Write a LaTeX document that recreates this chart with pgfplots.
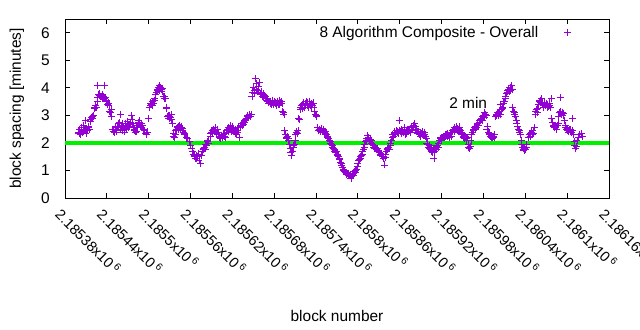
\documentclass[border=0pt]{standalone}
\usepackage{pgfplots}
\pgfplotsset{compat=1.18}
\usepackage{fontspec}
\setmainfont{Liberation Sans}
\definecolor{gpviolet}{RGB}{148,0,211}
\definecolor{gpgreen}{RGB}{0,240,0}
\newcommand{\tl}[1]{#1x10\,\textsuperscript{6}}
\pgfplotsset{mylegimg/.style={legend image code/.code={\path[draw=none] (0,0) -- (0.95cm,0); \draw[##1] plot[only marks] coordinates {(0.95cm,0cm)};}}}
\begin{document}
\begin{tikzpicture}
\path[use as bounding box] (-65bp,-132bp) rectangle (575bp,198bp);
\begin{axis}[
  at={(0,0)}, anchor=south west,
  scale only axis, width=544bp, height=179bp,
  xmin=380, xmax=1160, ymin=0, ymax=6.5,
  font=\fontsize{15.5}{18}\selectfont,
  /pgf/number format/assume math mode=true,
  axis line style={line width=0.9bp},
  tick style={line width=0.9bp, black},
  tick align=inside, major tick length=5bp,
  xtick={380,440,...,1160},
  xticklabels={\tl{2.18538},\tl{2.18544},\tl{2.1855},\tl{2.18556},\tl{2.18562},\tl{2.18568},\tl{2.18574},\tl{2.1858},\tl{2.18586},\tl{2.18592},\tl{2.18598},\tl{2.18604},\tl{2.1861},\tl{2.18616}},
  xticklabel style={yshift=-9bp, xshift=-2bp, rotate=-45, anchor=north west, inner sep=0pt, font=\fontsize{14.5}{17}\selectfont},
  ytick={0,1,...,6},
  yticklabel style={anchor=east, inner sep=0pt, xshift=-15bp},
  ylabel={block spacing [minutes]},
  xlabel={block number},
  ylabel style={at={(rel axis cs:0,0.5)}, anchor=center, yshift=48bp},
  xlabel style={at={(rel axis cs:0.5,0)}, anchor=center, yshift=-118bp},
  legend plot pos=right,
  legend style={draw=none, fill=none, at={(rel axis cs:1,1)}, anchor=north east, xshift=-35bp, yshift=-3bp, font=\fontsize{15.5}{18}\selectfont},
  clip=true,
]
% x = block number - 2185000
\addplot[only marks, mark=+, mark size=3.5bp, gpviolet, mark options={line width=0.8bp}, mylegimg] table {
x y
399 2.40
400 2.35
401 2.48
402 2.30
403 2.55
404 2.45
405 2.38
406 2.62
407 2.42
408 2.50
409 2.80
410 2.35
411 2.52
412 2.45
413 2.58
414 2.60
415 2.50
416 2.78
417 2.85
418 2.92
419 2.88
420 2.95
421 3.00
422 3.25
423 3.30
424 3.35
425 3.28
426 3.50
427 3.65
428 3.75
429 3.72
430 3.78
427 4.10
431 3.70
432 3.68
433 3.75
434 3.62
435 3.70
436 3.60
437 4.08
438 3.65
439 3.55
440 3.50
441 3.40
442 3.45
443 3.35
444 3.15
445 3.10
446 3.20
447 2.95
448 2.50
449 2.42
450 2.48
451 2.38
452 2.55
453 2.45
454 2.40
455 2.60
456 2.70
457 2.55
458 2.75
459 3.05
460 2.50
461 2.65
462 2.45
463 2.70
464 2.55
465 2.40
466 2.60
467 2.72
468 2.50
469 2.62
470 2.78
471 2.55
472 2.68
473 2.60
474 2.75
475 3.00
476 2.85
477 2.70
478 2.55
479 2.45
480 2.50
481 2.40
482 2.42
483 2.55
484 2.65
485 2.75
486 2.80
487 2.70
488 2.60
489 2.72
490 2.55
491 2.65
492 2.50
494 2.45
496 2.35
497 2.30
498 2.40
500 2.88
501 3.30
502 3.38
503 3.45
504 3.40
505 3.50
506 3.35
507 3.45
508 3.55
509 3.60
510 3.75
511 3.85
512 3.90
513 3.95
514 4.00
515 3.92
516 4.08
517 4.02
518 3.95
519 3.88
520 3.98
521 3.70
522 3.62
523 3.68
524 3.60
525 3.30
526 3.25
527 2.95
528 3.00
529 2.90
530 2.98
531 2.92
532 3.02
533 2.85
534 2.70
535 2.25
536 2.35
537 2.20
538 2.45
539 2.30
540 2.50
541 2.55
542 2.60
543 2.50
544 2.62
545 2.48
546 2.55
547 2.58
548 2.45
549 2.52
550 2.40
551 2.35
552 2.30
554 2.20
556 2.15
558 2.05
560 1.90
562 1.80
563 1.70
564 1.60
565 1.55
566 1.50
567 1.45
568 1.55
569 1.42
570 1.50
571 1.60
572 1.35
574 1.26
576 1.55
577 1.70
578 1.75
579 1.80
580 1.85
581 1.78
582 1.95
583 1.90
584 2.05
585 2.10
586 2.00
588 2.25
589 2.35
590 2.40
591 2.45
592 2.38
593 2.50
594 2.42
595 2.55
596 2.45
597 2.35
598 2.40
599 2.48
600 2.30
601 2.25
602 2.20
603 2.15
604 2.28
605 2.22
606 2.18
607 2.30
608 2.25
609 2.35
610 2.20
611 2.40
612 2.45
613 2.50
614 2.40
615 2.55
616 2.48
617 2.62
618 2.42
619 2.50
620 2.58
621 2.45
622 2.52
623 2.40
624 2.35
625 2.48
626 2.30
627 2.40
628 2.45
629 2.55
630 2.20
631 2.60
632 2.65
633 2.70
634 2.62
635 2.72
636 2.68
637 2.75
638 2.80
639 2.85
640 2.90
641 2.95
642 3.00
643 2.92
644 2.98
645 3.05
646 2.95
647 3.02
648 3.70
649 3.85
650 4.00
651 3.90
652 3.80
653 4.33
654 4.15
655 3.95
656 3.85
657 4.05
658 3.90
659 4.20
660 3.80
661 3.75
662 3.85
663 3.70
664 3.78
665 3.65
666 3.72
667 3.60
668 3.68
669 3.55
670 3.62
671 3.50
672 3.45
673 3.52
674 3.42
675 3.48
676 3.40
677 3.55
678 3.45
679 3.38
680 3.50
681 3.42
682 3.48
683 3.35
684 3.52
685 3.45
686 3.40
687 3.55
688 3.38
689 3.45
690 3.50
691 3.42
692 3.15
693 3.10
694 3.05
695 2.45
696 2.30
697 2.20
698 2.15
699 2.22
700 2.10
701 2.18
702 1.95
703 1.80
704 1.65
705 1.55
706 1.70
707 1.85
708 1.90
709 1.95
710 2.10
711 2.30
712 2.40
713 2.35
714 2.45
715 2.90
716 2.85
717 3.20
718 3.30
719 3.35
720 3.25
721 3.40
722 3.45
723 3.30
724 3.42
725 3.38
726 3.50
727 3.35
728 3.45
729 3.30
730 3.40
731 3.52
732 3.35
733 3.42
734 3.28
735 3.38
736 3.45
737 3.30
738 3.15
739 3.05
740 2.95
741 3.00
742 2.55
744 2.45
745 2.50
746 2.42
747 2.48
748 2.52
749 2.40
750 2.45
751 2.50
752 2.38
753 2.42
754 2.35
755 2.30
756 2.25
757 2.20
758 2.15
759 2.10
760 2.05
761 2.00
762 1.95
763 1.90
764 1.85
765 1.80
766 1.75
767 1.70
768 1.65
769 1.68
770 1.60
771 1.55
772 1.50
773 1.45
774 1.40
775 1.30
776 1.25
777 1.20
778 1.10
779 1.05
780 1.00
781 0.95
782 0.92
783 0.88
784 0.85
785 0.90
786 0.82
787 0.88
788 0.80
789 0.85
790 0.72
791 0.78
792 0.85
793 0.90
794 0.82
795 0.95
796 0.92
797 1.00
798 1.05
799 1.15
800 1.25
801 1.35
802 1.40
803 1.45
804 1.50
805 1.55
806 1.60
807 1.70
808 1.78
809 1.85
810 1.95
811 2.05
812 2.10
813 2.15
814 2.27
815 2.20
816 2.10
817 2.05
818 2.12
819 2.08
820 2.00
821 1.95
822 1.90
823 1.85
824 1.80
825 1.82
826 1.78
827 1.75
828 1.80
829 1.72
830 1.70
831 1.65
832 1.60
833 1.55
834 1.58
835 1.50
836 1.45
837 1.52
838 1.20
839 1.48
840 1.60
841 1.70
842 1.75
843 1.80
844 1.85
845 1.78
846 1.90
847 2.00
848 2.10
849 2.20
850 2.30
851 2.25
852 2.35
853 2.40
854 2.30
855 2.45
856 2.38
857 2.42
858 2.35
859 2.80
860 2.45
861 2.40
862 2.48
863 2.35
864 2.42
865 2.38
866 2.45
867 2.55
868 2.30
869 2.40
870 2.35
871 2.50
872 2.42
873 2.40
874 2.50
875 2.38
876 2.55
877 2.60
878 2.50
879 2.65
880 2.55
881 2.70
882 2.60
883 2.45
884 2.50
885 2.40
886 2.35
887 2.40
888 2.30
889 2.38
890 2.25
891 2.35
892 2.30
893 2.42
894 2.28
895 2.38
896 2.30
897 2.22
898 2.15
899 2.00
900 1.95
901 1.85
902 1.90
903 1.80
904 1.75
905 1.70
906 1.85
907 1.65
908 1.78
909 1.45
910 1.70
911 1.80
912 1.88
913 1.75
914 1.90
915 1.82
916 2.00
917 2.10
918 2.15
919 2.20
920 2.12
921 2.20
922 2.18
923 2.25
924 2.20
925 2.30
926 2.22
927 2.32
928 2.25
929 2.35
930 2.28
931 2.20
932 2.30
933 2.38
934 2.25
935 2.40
936 2.45
937 2.50
938 2.42
939 2.55
940 2.48
941 2.60
942 2.45
943 2.52
944 2.40
945 2.50
946 2.58
947 2.45
948 2.35
949 2.40
950 2.30
951 2.20
952 2.25
953 2.15
954 2.22
955 2.18
956 2.10
957 2.20
958 1.95
959 1.85
960 1.80
961 1.88
962 2.10
963 2.30
964 2.40
965 2.45
966 2.50
967 2.55
968 2.48
969 2.60
970 2.55
971 2.65
972 2.70
973 2.62
974 2.75
975 2.80
976 2.85
977 2.90
978 2.82
979 2.95
980 3.00
981 2.92
982 3.10
983 3.05
984 3.00
985 2.50
986 2.60
987 2.40
988 2.35
989 2.30
990 2.25
991 2.20
992 2.28
993 2.18
994 2.25
995 2.20
996 2.30
997 2.95
998 3.00
999 3.05
1000 3.10
1001 2.98
1002 3.08
1003 3.15
1004 3.40
1005 3.05
1006 3.20
1007 3.25
1008 3.30
1009 3.45
1010 3.50
1011 3.60
1012 3.70
1013 3.80
1014 3.85
1015 3.90
1016 3.95
1017 3.88
1018 4.00
1019 3.92
1020 4.08
1021 3.95
1022 3.30
1023 3.15
1024 3.05
1025 3.10
1026 2.95
1027 2.80
1028 2.70
1029 2.60
1030 2.50
1031 2.45
1032 2.40
1033 2.30
1034 2.10
1035 1.95
1036 1.85
1037 1.78
1038 1.72
1039 1.80
1040 1.75
1041 1.85
1042 1.95
1044 2.20
1046 2.30
1047 2.35
1048 2.25
1049 2.40
1050 2.30
1051 2.45
1052 2.35
1053 2.55
1054 3.05
1055 3.15
1056 3.20
1057 3.10
1058 3.25
1059 3.40
1060 3.50
1061 3.55
1062 3.48
1063 3.60
1064 3.45
1065 3.40
1066 3.30
1067 3.38
1068 3.45
1069 3.35
1070 3.42
1071 3.28
1072 3.40
1073 3.32
1074 3.45
1075 3.35
1076 3.30
1077 3.60
1078 2.90
1079 2.75
1080 2.65
1081 2.60
1082 2.55
1083 2.62
1084 2.58
1085 2.50
1086 2.65
1087 2.70
1088 2.95
1089 3.10
1090 3.65
1091 3.15
1092 3.05
1093 3.12
1094 3.00
1095 3.08
1096 2.80
1097 2.65
1098 2.55
1099 2.50
1100 2.45
1101 2.52
1102 2.40
1103 2.48
1104 2.42
1105 2.50
1106 2.38
1107 2.90
1108 2.45
1109 2.30
1110 2.05
1111 1.90
1112 1.80
1113 1.88
1114 2.10
1116 2.20
1118 2.30
1120 2.35
1122 2.25
};
\addlegendentry{8 Algorithm Composite - Overall}
\addplot[gpgreen, line width=3.5bp, forget plot] coordinates {(380,2) (1160,2)};
\node[anchor=west, font=\fontsize{15.5}{18}\selectfont] at (axis cs:926,3.47) {2 min};
\end{axis}
\end{tikzpicture}
\end{document}
